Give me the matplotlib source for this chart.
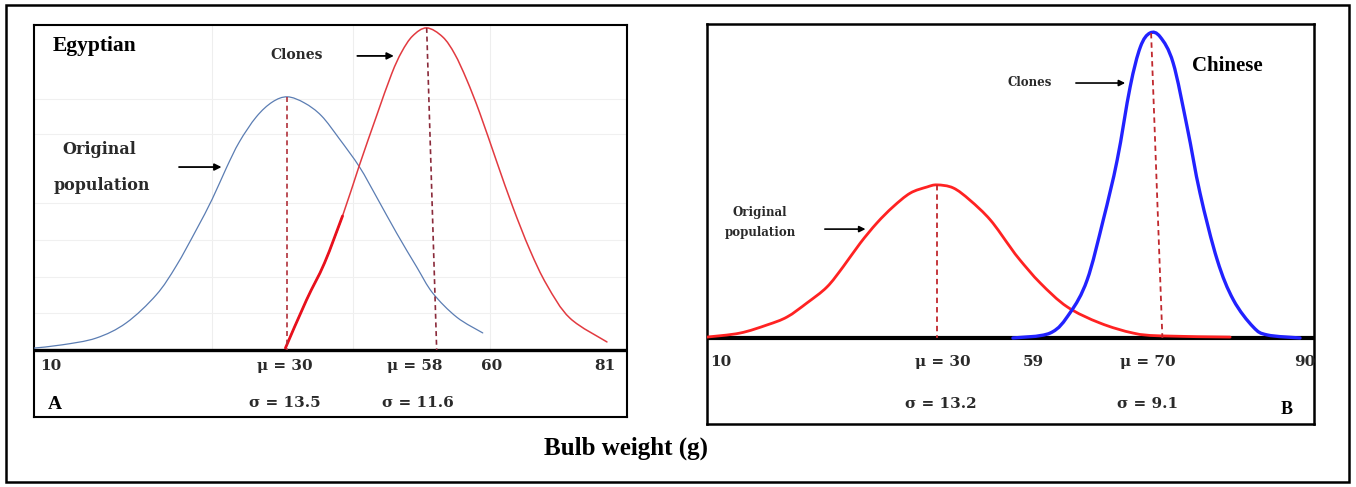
import numpy as np
import matplotlib
matplotlib.use("Agg")
import matplotlib.pyplot as plt
from matplotlib.patches import Rectangle, PathPatch
from matplotlib.path import Path

plt.rcParams['font.family'] = ['Liberation Serif', 'DejaVu Serif']

# ---- Panel A (Egyptian) : curves (bulb weight g, relative frequency)
a_orig_x = [-20.6, -15.0, -8.2, -2.2, 3.8, 7.8, 11.8, 15.0, 17.8, 20.4, 23.8, 27.0, 30.0,
            33.4, 36.8, 40.4, 44.4, 47.8, 51.8, 55.8, 59.0, 63.8, 69.0]
a_orig_y = [0.6, 1.6, 3.7, 8.4, 17.1, 26.1, 37.3, 46.9, 56.5, 64.6, 72.4, 77.0, 78.6,
            76.7, 72.7, 65.5, 56.8, 47.5, 36.3, 25.8, 17.7, 10.2, 5.3]
a_clone_x = [29.6, 33.8, 37.4, 41.0, 44.4, 47.8, 50.8, 52.8, 55.0, 57.8, 61.0, 63.4,
             65.8, 68.4, 71.8, 75.0, 78.4, 81.8, 86.4, 93.8]
a_clone_y = [0.6, 15.5, 27.0, 41.6, 57.5, 72.7, 85.7, 92.5, 97.5, 100.0, 97.2, 91.9,
             83.9, 73.6, 58.4, 44.4, 31.1, 20.2, 9.9, 2.5]
a_mean_orig = ([30.0, 30.0], [78.6, 0.0])
a_mean_clone = ([57.8, 59.8], [100.0, 0.0])
a_tick_pos = [29.4, 55.4, 70.8, 93.4]
a_tick_lab = ["μ = 30", "μ = 58", "60", "81"]
a_sigma_pos = [29.4, 56.0]
a_sigma_lab = ["σ = 13.5", "σ = 11.6"]

# ---- Panel B (Chinese)
b_orig_x = [-12.8, -6.7, -1.6, 2.1, 5.8, 9.5, 12.5, 15.7, 18.8, 21.8, 25.0, 28.1, 30.0,
            33.0, 36.1, 39.9, 43.6, 45.4, 49.2, 54.2, 60.3, 66.5, 71.5, 84.5]
b_orig_y = [0.3, 1.6, 4.3, 6.9, 11.5, 16.7, 23.3, 31.1, 37.7, 43.0, 47.5, 49.5, 50.2,
            49.2, 45.2, 38.7, 29.8, 25.6, 18.0, 10.2, 4.9, 1.6, 0.7, 0.3]
b_clone_x = [44.1, 51.0, 54.7, 57.9, 60.9, 63.5, 65.9, 67.8, 69.6, 71.5, 73.9, 76.5,
             78.9, 82.1, 85.1, 88.8, 91.4, 97.5]
b_clone_y = [0.0, 1.6, 8.2, 19.0, 38.7, 58.4, 82.3, 95.4, 100.0, 98.7, 90.2, 69.2,
             47.5, 25.6, 12.5, 3.6, 1.0, 0.0]
b_mean_orig = ([30.0, 30.0], [50.2, 0.0])
b_mean_clone = ([69.8, 71.9], [100.0, 0.0])
b_tick_pos = [31.1, 47.9, 69.1, 98.4]
b_tick_lab = ["μ = 30", "59", "μ = 70", "90"]
b_sigma_pos = [30.6, 69.1]
b_sigma_lab = ["σ = 13.2", "σ = 9.1"]

W, H = 1356, 487
fig = plt.figure(figsize=(W / 100, H / 100), dpi=100)

LBL = dict(family=['DejaVu Serif'], fontweight="bold", color="#2a2a2a")
TIMES = dict(family=['Liberation Serif'], fontweight="bold", color="black")


def px_axes(left, top, right, bottom):
    return fig.add_axes([left / W, 1 - bottom / H, (right - left) / W, (bottom - top) / H])


def smooth_line(ax, xs, ys, **kw):
    # smoothed line through the read points (Catmull-Rom drawn as Bezier segments)
    p = np.column_stack([xs, ys]).astype(float)
    verts = [p[0]]
    codes = [Path.MOVETO]
    n = len(p)
    for i in range(n - 1):
        p0 = p[i - 1] if i > 0 else p[i]
        p3 = p[i + 2] if i + 2 < n else p[i + 1]
        c1 = p[i] + (p[i + 1] - p0) / 6
        c2 = p[i + 1] - (p3 - p[i]) / 6
        verts += [c1, c2, p[i + 1]]
        codes += [Path.CURVE4] * 3
    ax.add_patch(PathPatch(Path(verts, codes), fill=False, capstyle="round", **kw))


# outer frame
fig.add_artist(Rectangle((6 / W, 5 / H), (1349 - 6) / W, (482 - 5) / H,
                         transform=fig.transFigure, fill=False, lw=1.8, ec="black"))

# ===============================
# Panel A
# ===============================
ax = px_axes(34, 25, 627, 417)
ax.set_xlim(-20.6, 97.8)
ax.set_ylim(-20.8, 100.9)
for gx in [15, 43, 70.4]:
    ax.plot([gx, gx], [0, 101], color="#eeeeee", lw=0.8, zorder=0)
for gy in [11.5, 22.7, 34.0, 45.6, 67.0, 78.0]:
    ax.plot([-21, 98], [gy, gy], color="#f0f0f0", lw=0.8, zorder=0)

ax.axhline(0, color="black", lw=2.4, zorder=3)
smooth_line(ax, a_orig_x, a_orig_y, ec="#5b7db3", lw=0.9, zorder=4)
smooth_line(ax, a_clone_x, a_clone_y, ec="#e23a40", lw=1.1, zorder=4)
smooth_line(ax, a_clone_x[:4], a_clone_y[:4], ec="#e8101c", lw=2.0, zorder=4)
ax.plot(*a_mean_orig, color="#b0303a", lw=1.2, ls=(0, (3, 2.2)), zorder=5)
ax.plot(*a_mean_clone, color="#8a2a3a", lw=1.2, ls=(0, (3, 2.2)), zorder=5)

ax.text(-19.4, -5.0, "10", ha="left", va="center", fontsize=11, **LBL)
for x, lab in zip(a_tick_pos, a_tick_lab):
    ax.text(x, -5.0, lab, ha="center", va="center", fontsize=11, **LBL)
for x, lab in zip(a_sigma_pos, a_sigma_lab):
    ax.text(x, -16.5, lab, ha="center", va="center", fontsize=11, **LBL)
ax.text(-17.8, -16.8, "A", ha="left", va="center", fontsize=14, **TIMES)
ax.text(-16.8, 94.3, "Egyptian", ha="left", va="center", fontsize=15.5, **TIMES)
ax.text(31.8, 91.6, "Clones", ha="center", va="center", fontsize=10, **LBL)
ax.annotate("", xy=(51.8, 91.3), xytext=(43.4, 91.3),
            arrowprops=dict(arrowstyle="-|>", color="black", lw=1.3, mutation_scale=10))
ax.text(-7.6, 62.1, "Original", ha="center", va="center", fontsize=11.5, **LBL)
ax.text(-7.0, 51.2, "population", ha="center", va="center", fontsize=11.5, **LBL)
ax.annotate("", xy=(17.4, 56.8), xytext=(7.8, 56.8),
            arrowprops=dict(arrowstyle="-|>", color="black", lw=1.3, mutation_scale=10))
ax.set_xticks([])
ax.set_yticks([])
for s in ax.spines.values():
    s.set_linewidth(1.5)

# ===============================
# Panel B
# ===============================
bx = px_axes(707, 24, 1314, 424)
bx.set_xlim(-12.8, 100.1)
bx.set_ylim(-28.2, 102.95)
bx.axhline(0, color="black", lw=3.0, zorder=3)
smooth_line(bx, b_orig_x, b_orig_y, ec="#ff2222", lw=2.0, zorder=4)
smooth_line(bx, b_clone_x, b_clone_y, ec="#2222ff", lw=2.4, zorder=4)
bx.plot(*b_mean_orig, color="#c0282d", lw=1.3, ls=(0, (3, 2.2)), zorder=5)
bx.plot(*b_mean_clone, color="#c0282d", lw=1.3, ls=(0, (3, 2.2)), zorder=5)

bx.text(-12.3, -7.9, "10", ha="left", va="center", fontsize=11, **LBL)
for x, lab in zip(b_tick_pos, b_tick_lab):
    bx.text(x, -7.9, lab, ha="center", va="center", fontsize=11, **LBL)
for x, lab in zip(b_sigma_pos, b_sigma_lab):
    bx.text(x, -21.6, lab, ha="center", va="center", fontsize=11, **LBL)
bx.text(95.1, -23.3, "B", ha="center", va="center", fontsize=13, **TIMES)
bx.text(84.0, 89.2, "Chinese", ha="center", va="center", fontsize=15, **TIMES)
bx.text(47.3, 83.9, "Clones", ha="center", va="center", fontsize=8.5, **LBL)
bx.annotate("", xy=(65.5, 83.6), xytext=(55.3, 83.6),
            arrowprops=dict(arrowstyle="-|>", color="black", lw=1.2, mutation_scale=9))
bx.text(-2.9, 41.2, "Original", ha="center", va="center", fontsize=8.5, **LBL)
bx.text(-2.9, 34.6, "population", ha="center", va="center", fontsize=8.5, **LBL)
bx.annotate("", xy=(17.2, 35.7), xytext=(8.6, 35.7),
            arrowprops=dict(arrowstyle="-|>", color="black", lw=1.2, mutation_scale=9))
bx.set_xticks([])
bx.set_yticks([])
for s in bx.spines.values():
    s.set_linewidth(1.8)

fig.text(626 / W, 1 - 448 / H, "Bulb weight (g)", ha="center", va="center",
         fontsize=18, **TIMES)

fig.savefig("out.png", dpi=100)
